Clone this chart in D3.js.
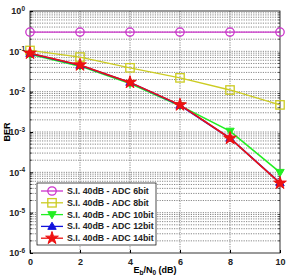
<!DOCTYPE html>
<html><head><meta charset="utf-8">
<script src="https://cdn.jsdelivr.net/npm/d3@7"></script>
<style>body{margin:0;background:#fff}svg{display:block}text{font-family:"Liberation Sans",Arial,sans-serif}</style>
</head><body><svg id="c" width="290" height="277"></svg>
<script>
const snr = [0, 2, 4, 6, 8, 10];
const ber6 = [0.3, 0.3, 0.3, 0.3, 0.3, 0.3];
const ber8 = [0.105, 0.072, 0.039, 0.022, 0.011, 0.0047];
const ber10 = [0.085, 0.043, 0.016, 0.0045, 0.00105, 0.0001];
const ber12 = [0.088, 0.045, 0.017, 0.0046, 0.0007, 0.000055];
const ber14 = [0.09, 0.046, 0.017, 0.0047, 0.0007, 0.000054];
const labels = ["S.I. 40dB - ADC 6bit","S.I. 40dB - ADC 8bit","S.I. 40dB - ADC 10bit","S.I. 40dB - ADC 12bit","S.I. 40dB - ADC 14bit"];
const colors = ["#cc33cc","#cccc22","#22ee22","#1111dd","#ee1111"];
const markers = ["circle","square","tridown","triup","star"];
const series = [ber6, ber8, ber10, ber12, ber14];
const xTicks = [0,2,4,6,8,10];
const yExps = [0,-1,-2,-3,-4,-5,-6];

const svg = d3.select("#c");
const L=30,R=280,T=11,B=253;
const x = d3.scaleLinear().domain([0,10]).range([L,R]);
const y = d3.scaleLog().domain([1e-6,1]).range([B,T]);

// grid
const g = svg.append("g");
xTicks.slice(1,-1).forEach(v=>g.append("line").attr("x1",x(v)).attr("x2",x(v)).attr("y1",T).attr("y2",B)
  .attr("stroke","#555").attr("stroke-width",0.7).attr("stroke-dasharray","1.2,1.2"));
for(let e=-6;e<0;e++){for(let m=1;m<10;m++){const v=m*Math.pow(10,e); if(e==-6&&m==1) continue;
  g.append("line").attr("x1",L).attr("x2",R).attr("y1",y(v)).attr("y2",y(v))
   .attr("stroke","#555").attr("stroke-width",0.7).attr("stroke-dasharray","1.2,1.2");}}

// axes
const xa = svg.append("g").attr("transform",`translate(0,${B})`).call(d3.axisBottom(x).tickValues(xTicks).tickSize(-3).tickPadding(6));
const ya = svg.append("g").attr("transform",`translate(${L},0)`).call(d3.axisLeft(y).tickValues(yExps.map(e=>Math.pow(10,e))).tickSize(-3).tickPadding(4).tickFormat(()=>""));
[xa,ya].forEach(a=>{a.select(".domain").remove();a.selectAll("line").attr("stroke","#000");a.selectAll("text").attr("font-size",9).attr("font-weight","bold").attr("fill","#222");});
// minor y ticks
for(let e=-6;e<0;e++)for(let m=2;m<10;m++){const v=m*Math.pow(10,e);
  svg.append("line").attr("x1",L).attr("x2",L+2).attr("y1",y(v)).attr("y2",y(v)).attr("stroke","#000").attr("stroke-width",0.6);
  svg.append("line").attr("x1",R).attr("x2",R-2).attr("y1",y(v)).attr("y2",y(v)).attr("stroke","#000").attr("stroke-width",0.6);}
ya.selectAll(".tick").each(function(d){const t=d3.select(this).append("text").attr("x",-5).attr("dy","0.32em").attr("text-anchor","end")
  .attr("font-size",9).attr("font-weight","bold").attr("fill","#222");
  t.append("tspan").text("10");t.append("tspan").attr("dy","-0.5em").attr("font-size",6.5).text(Math.round(Math.log10(d)));});
svg.append("rect").attr("x",L).attr("y",T).attr("width",R-L).attr("height",B-T).attr("fill","none").attr("stroke","#000").attr("stroke-width",0.8);

// labels
svg.append("text").attr("transform",`translate(10,${(T+B)/2}) rotate(-90)`).attr("text-anchor","middle").attr("font-size",9).attr("font-weight","bold").text("BER");
const xl = svg.append("text").attr("x",x(5)).attr("y",273).attr("text-anchor","middle").attr("font-size",9).attr("font-weight","bold");
xl.append("tspan").text("E");xl.append("tspan").attr("dy",2).attr("font-size",6.5).text("b");
xl.append("tspan").attr("dy",-2).text("/N");xl.append("tspan").attr("dy",2).attr("font-size",6.5).text("0");
xl.append("tspan").attr("dy",-2).text(" (dB)");

function marker(sel,type,cx,cy,col){
  const s=4.2;
  if(type==="circle") sel.append("circle").attr("cx",cx).attr("cy",cy).attr("r",s).attr("fill","none").attr("stroke",col).attr("stroke-width",1.3);
  else if(type==="square") sel.append("rect").attr("x",cx-s).attr("y",cy-s).attr("width",2*s).attr("height",2*s).attr("fill","none").attr("stroke",col).attr("stroke-width",1.3);
  else if(type==="tridown") sel.append("path").attr("d",`M${cx-s},${cy-s*0.7}L${cx+s},${cy-s*0.7}L${cx},${cy+s}Z`).attr("fill",col).attr("stroke",col);
  else if(type==="triup") sel.append("path").attr("d",`M${cx-s},${cy+s*0.7}L${cx+s},${cy+s*0.7}L${cx},${cy-s}Z`).attr("fill",col).attr("stroke",col);
  else sel.append("path").attr("d",d3.symbol(d3.symbolStar,50)()).attr("transform",`translate(${cx},${cy})`).attr("fill",col).attr("stroke",col);
}
const line = d3.line().x((d,i)=>x(snr[i])).y(d=>y(d));
series.forEach((s,k)=>{
  svg.append("path").attr("d",line(s)).attr("fill","none").attr("stroke",colors[k]).attr("stroke-width",k>=2?1.6:1.3);
  s.forEach((v,i)=>marker(svg,markers[k],x(snr[i]),y(v),colors[k]));
});

// legend
const lg = svg.append("g");
lg.append("rect").attr("x",37).attr("y",183).attr("width",119).attr("height",62).attr("fill","#fff").attr("stroke","#000").attr("stroke-width",0.7);
labels.forEach((t,k)=>{const yy=191+k*11.8;
  lg.append("line").attr("x1",41).attr("x2",63).attr("y1",yy).attr("y2",yy).attr("stroke",colors[k]).attr("stroke-width",1.3);
  marker(lg,markers[k],52,yy,colors[k]);
  lg.append("text").attr("x",67).attr("y",yy).attr("dy","0.35em").attr("font-size",8.8).attr("font-weight","bold").attr("fill","#222").text(t);
});
</script></body></html>
